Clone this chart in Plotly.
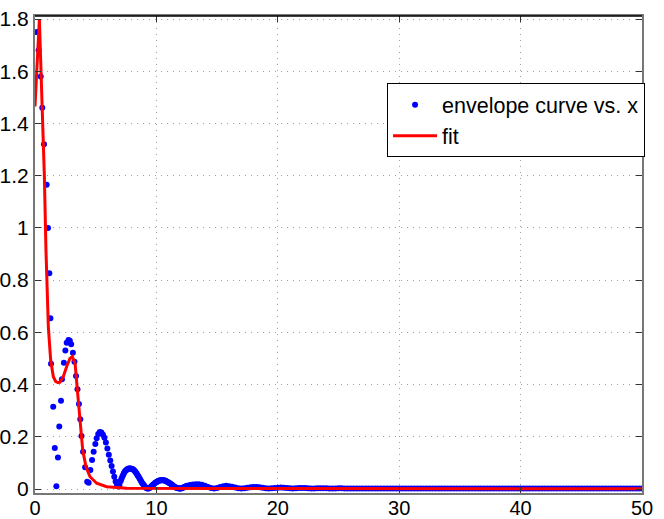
import plotly.graph_objects as go

# ---- envelope data (blue dots) ----
x_env = [0.14, 0.30, 0.47, 0.60, 0.74, 0.96, 1.07, 1.18, 1.27, 1.32, 1.50, 1.63, 1.76, 1.89,
         2.00, 2.14, 2.22, 2.38, 2.50, 2.61, 2.76, 2.87, 2.98, 3.12, 3.25, 3.38, 3.50, 3.62,
         3.73, 3.83, 3.96, 4.13, 4.30, 4.42, 4.56, 4.70, 4.83, 4.97, 5.08, 5.21, 5.34, 5.47,
         5.60, 5.72, 5.84, 5.96, 6.08, 6.20, 6.31, 6.42, 6.53, 6.64, 6.75, 6.85, 6.95, 7.05,
         7.18, 7.32, 7.46, 7.60, 7.74, 7.88, 8.02, 8.16, 8.30, 8.44, 8.58, 8.72, 8.86, 9.00,
         9.14, 9.28, 9.42, 9.56, 9.70, 9.84, 9.98, 10.12, 10.26, 10.40, 10.54, 10.68, 10.82,
         10.96, 11.10, 11.24, 11.38, 11.52, 11.66, 11.80, 11.94, 12.08, 12.22, 12.36]
y_env = [1.75, 1.68, 1.58, 1.46, 1.32, 1.165, 1.00, 0.826, 0.654, 0.48, 0.315, 0.157, 0.011, 0.121,
         0.239, 0.338, 0.42, 0.484, 0.53, 0.56, 0.571, 0.568, 0.554, 0.522, 0.487, 0.433, 0.382, 0.326,
         0.267, 0.203, 0.143, 0.083, 0.028, 0.024, 0.073, 0.111, 0.143, 0.172, 0.194, 0.211, 0.218, 0.216,
         0.208, 0.196, 0.178, 0.155, 0.131, 0.109, 0.088, 0.067, 0.047, 0.029, 0.016, 0.010, 0.014, 0.030,
         0.046, 0.060, 0.070, 0.076, 0.079, 0.079, 0.077, 0.072, 0.064, 0.054, 0.043, 0.032, 0.021, 0.012,
         0.005, 0.002, 0.004, 0.009, 0.015, 0.021, 0.026, 0.030, 0.033, 0.034, 0.034, 0.033, 0.030,
         0.026, 0.022, 0.017, 0.012, 0.008, 0.005, 0.003, 0.002, 0.003, 0.006, 0.009]

# additional (denser) envelope samples over the 7-12.5 ripples
x_env2 = [7.11, 7.25, 7.39, 7.53, 7.67, 7.81, 7.95, 8.09, 8.23, 8.37, 8.51, 8.65, 8.79, 8.93,
          9.07, 9.21, 9.35, 9.49, 9.63, 9.77, 9.91, 10.05, 10.19, 10.33, 10.47, 10.61, 10.75,
          10.89, 11.03, 11.17, 11.31, 11.45, 11.59, 11.73, 11.87, 12.01, 12.15, 12.29, 12.43]
y_env2 = [0.038, 0.053, 0.066, 0.073, 0.078, 0.079, 0.078, 0.075, 0.068, 0.059, 0.049, 0.037, 0.026, 0.016,
          0.008, 0.003, 0.002, 0.006, 0.012, 0.018, 0.024, 0.028, 0.032, 0.034, 0.034, 0.034, 0.032,
          0.028, 0.024, 0.020, 0.015, 0.010, 0.006, 0.004, 0.002, 0.002, 0.004, 0.008, 0.010]

# tail of the envelope, sampled every 0.25 from 12.5 to 50
x_tail = [12.5 + 0.25 * i for i in range(151)]
y_tail = [0.012, 0.015, 0.017, 0.018, 0.018, 0.016, 0.012, 0.008, 0.004, 0.002,
          0.004, 0.008, 0.011, 0.012, 0.011, 0.009, 0.006, 0.003, 0.002, 0.003,
          0.005, 0.007, 0.008, 0.008, 0.007, 0.005, 0.003, 0.002, 0.003, 0.004,
          0.005, 0.006, 0.005, 0.004, 0.003, 0.002, 0.003, 0.004, 0.004, 0.004,
          0.003, 0.002, 0.002, 0.003, 0.003, 0.003, 0.003, 0.002, 0.002, 0.002,
          0.003, 0.003, 0.002, 0.002, 0.002, 0.002, 0.002, 0.002, 0.002, 0.002,
          0.002, 0.002, 0.002, 0.002, 0.002, 0.002, 0.002, 0.002, 0.002, 0.002,
          0.002, 0.002, 0.002, 0.002, 0.002, 0.002, 0.002, 0.002, 0.002, 0.002,
          0.002, 0.002, 0.002, 0.002, 0.002, 0.002, 0.002, 0.002, 0.002, 0.002,
          0.002, 0.002, 0.002, 0.002, 0.002, 0.002, 0.002, 0.002, 0.002, 0.002,
          0.002, 0.002, 0.002, 0.002, 0.002, 0.002, 0.002, 0.002, 0.002, 0.002,
          0.002, 0.002, 0.002, 0.002, 0.002, 0.002, 0.002, 0.002, 0.002, 0.002,
          0.002, 0.002, 0.002, 0.002, 0.002, 0.002, 0.002, 0.002, 0.002, 0.002,
          0.002, 0.002, 0.002, 0.002, 0.002, 0.002, 0.002, 0.002, 0.002, 0.002,
          0.002, 0.002, 0.002, 0.002, 0.002, 0.002, 0.002, 0.002, 0.002, 0.002,
          0.002]

# ---- fit curve (red line) ----
x_fit = [0.00, 0.36, 0.55, 0.77, 0.90, 0.98, 1.10, 1.29, 1.51, 1.70, 1.90, 2.06, 2.33, 2.61,
         2.88, 3.07, 3.30, 3.49, 3.71, 3.93, 4.20, 4.53, 5.08, 5.90, 7.55, 9.5, 12.0, 15.0,
         20.0, 30.0, 40.0, 50.0]
y_fit = [1.465, 1.80, 1.52, 1.20, 0.92, 0.78, 0.62, 0.494, 0.43, 0.412, 0.407, 0.409, 0.43, 0.469,
         0.50, 0.507, 0.482, 0.379, 0.252, 0.149, 0.085, 0.047, 0.022, 0.009, 0.003, 0.002, 0.002, 0.002,
         0.002, 0.001, 0.001, 0.001]

x_ticks = [0, 10, 20, 30, 40, 50]
y_ticks = [0, 0.2, 0.4, 0.6, 0.8, 1.0, 1.2, 1.4, 1.6, 1.8]
y_tick_labels = ["0", "0.2", "0.4", "0.6", "0.8", "1", "1.2", "1.4", "1.6", "1.8"]

FONT = "Liberation Sans, Arial, Helvetica, sans-serif"

# merge envelope samples in x order
env_pts = sorted(zip(x_env + x_env2 + x_tail, y_env + y_env2 + y_tail))
env_x = [p[0] for p in env_pts]
env_y = [p[1] for p in env_pts]

fig = go.Figure()
fig.add_trace(go.Scatter(
    x=env_x, y=env_y, mode="markers",
    name="envelope curve vs. x",
    marker=dict(color="#0000ff", size=6, line=dict(width=0)),
))
fig.add_trace(go.Scatter(
    x=x_fit, y=y_fit, mode="lines", name="fit",
    line=dict(color="#ff0000", width=3),
))

axis_common = dict(
    showgrid=True, gridcolor="#a0a0a0", griddash="1px,5px", gridwidth=1,
    zeroline=False, showline=True, linecolor="#777777", linewidth=2,
    mirror="ticks", ticks="inside", ticklen=6, tickcolor="#333333",
    automargin=False,
)

fig.update_layout(
    width=664, height=519,
    margin=dict(l=35, r=22, t=16, b=26),
    paper_bgcolor="white", plot_bgcolor="white",
    showlegend=True,
    legend=dict(
        x=0.58, y=0.859, xanchor="left", yanchor="top",
        bgcolor="white", bordercolor="black", borderwidth=1,
        font=dict(family=FONT, size=21.5, color="black"),
        itemwidth=44,
    ),
    xaxis=dict(range=[0, 50], tickvals=x_ticks, ticklabelstandoff=-4,
               tickfont=dict(family=FONT, size=20, color="black"), **axis_common),
    yaxis=dict(range=[-0.0153, 1.8115], tickvals=y_ticks, ticktext=y_tick_labels,
               tickfont=dict(family=FONT, size=21, color="black"), **axis_common),
)
fig.add_shape(type="line", xref="paper", yref="paper", x0=0, x1=1, y0=1, y1=1,
              line=dict(color="black", width=1.5))

fig.write_html("out.html", config={"displayModeBar": False},
               post_script="document.body.style.margin='0px';")
